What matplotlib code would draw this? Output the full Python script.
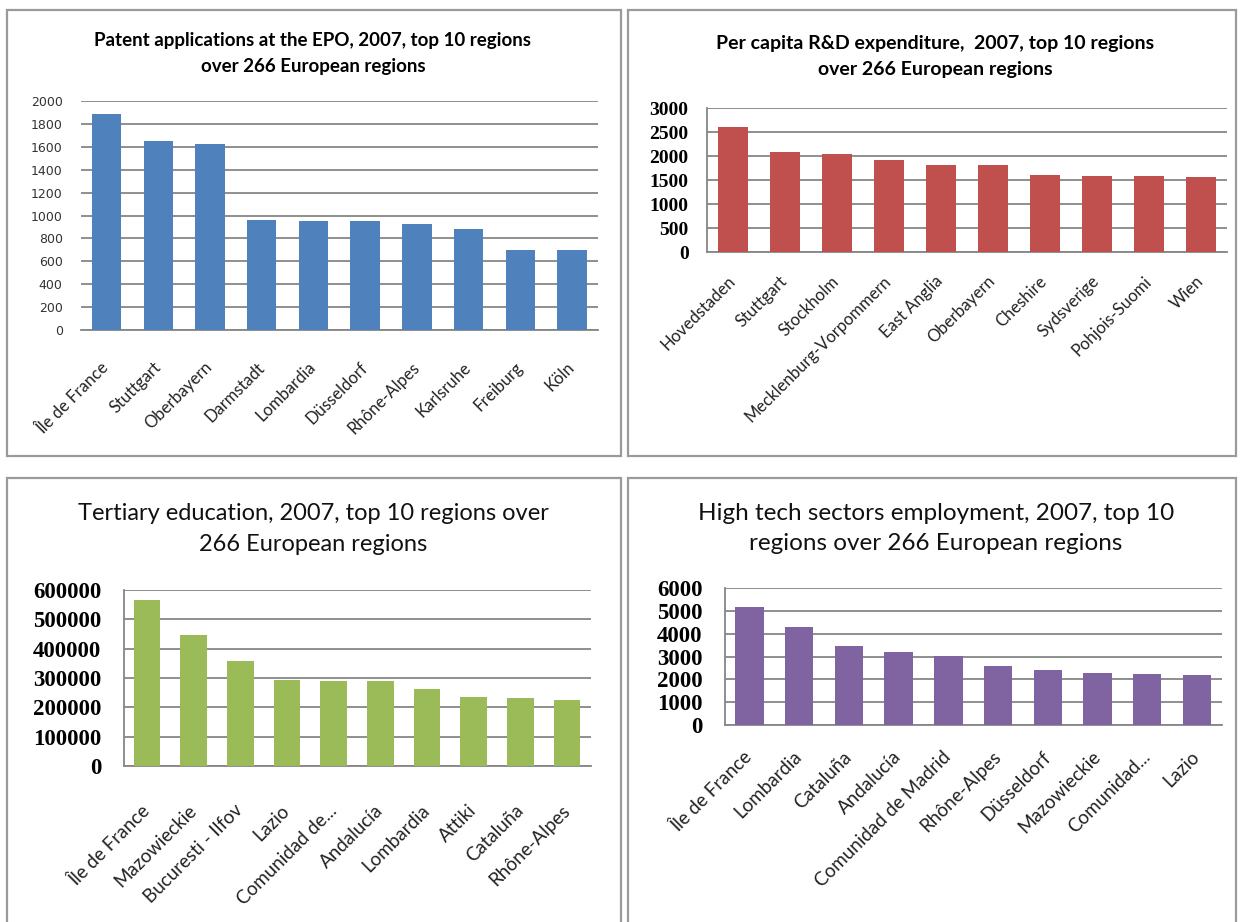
import matplotlib.pyplot as plt
from matplotlib.patches import Rectangle
from matplotlib.font_manager import FontProperties

# Data
patent_regions = ["Île de France", "Stuttgart", "Oberbayern", "Darmstadt", "Lombardia",
                  "Düsseldorf", "Rhône-Alpes", "Karlsruhe", "Freiburg", "Köln"]
patent_values = [1884, 1655, 1624, 958, 948, 948, 925, 882, 700, 700]

rd_regions = ["Hovedstaden", "Stuttgart", "Stockholm", "Mecklenburg-Vorpommern", "East Anglia",
              "Oberbayern", "Cheshire", "Sydsverige", "Pohjois-Suomi", "Wien"]
rd_values = [2616, 2096, 2048, 1922, 1815, 1815, 1610, 1590, 1590, 1562]

edu_regions = ["Île de France", "Mazowieckie", "Bucuresti - Ilfov", "Lazio", "Comunidad de...",
               "Andalucía", "Lombardia", "Attiki", "Cataluña", "Rhône-Alpes"]
edu_values = [567000, 446000, 358000, 294000, 290000, 290000, 264000, 235000, 231000, 226000]

tech_regions = ["Île de France", "Lombardia", "Cataluña", "Andalucía", "Comunidad de Madrid",
                "Rhône-Alpes", "Düsseldorf", "Mazowieckie", "Comunidad...", "Lazio"]
tech_values = [5195, 4310, 3480, 3225, 3030, 2590, 2410, 2290, 2220, 2215]

W, H = 1241, 922
GRID = "#868686"
SANS = "Lato"


def px_rect(x0, y0, x1, y1):
    """Pixel box (top-left origin) to figure fraction [l, b, w, h]."""
    return [x0 / W, 1 - y1 / H, (x1 - x0) / W, (y1 - y0) / H]


def bar_panel(fig, box, labels, values, color, ymax, step, ytick_font, label_size, ypad, xpad,
              left_spine=True):
    ax = fig.add_axes(px_rect(*box))
    x = range(len(values))
    ax.bar(x, values, width=0.57, color=color, zorder=3)
    ax.set_xlim(-0.5, len(values) - 0.5)
    ax.set_ylim(0, ymax)
    ax.set_yticks(range(0, ymax + 1, step))
    ax.yaxis.grid(True, color=GRID, linewidth=1.3, zorder=0)
    ax.set_axisbelow(True)
    for side in ["top", "right"]:
        ax.spines[side].set_visible(False)
    ax.spines["left"].set_visible(left_spine)
    for side in ["left", "bottom"]:
        ax.spines[side].set_color(GRID)
        ax.spines[side].set_linewidth(1.3)
    ax.tick_params(axis="both", length=0)
    ax.tick_params(axis="y", pad=ypad)
    ax.tick_params(axis="x", pad=xpad)
    for t in ax.get_yticklabels():
        t.set_fontproperties(ytick_font)
    ax.set_xticks(list(x))
    ax.set_xticklabels(labels, rotation=45, ha="right", va="center", rotation_mode="anchor",
                       fontsize=label_size, family=SANS, color="#222222")
    return ax


fig = plt.figure(figsize=(W / 100, H / 100), dpi=100)

# panel frames
for x0, y0, x1, y1 in [(7, 10, 621, 456), (628, 10, 1236, 456),
                       (7, 478, 621, 925), (628, 478, 1236, 925)]:
    fig.patches.append(Rectangle((x0 / W, 1 - y1 / H), (x1 - x0) / W, (y1 - y0) / H,
                                 transform=fig.transFigure, fill=False,
                                 edgecolor="#9a9a9a", linewidth=1.6))

small_sans = FontProperties(family="DejaVu Sans", size=9)
serif_mid = FontProperties(family="Liberation Serif", weight="bold", size=14)
serif_big = FontProperties(family="Liberation Serif", weight="bold", size=16.5)

ax1 = bar_panel(fig, (80.7, 101, 598, 330), patent_regions, patent_values, "#4F81BD",
                2000, 200, small_sans, 12, 13, 25, left_spine=False)
for t in ax1.get_yticklabels():
    t.set_color("#333333")
ax2 = bar_panel(fig, (706.7, 108.3, 1226.7, 252.3), rd_regions, rd_values, "#C0504D",
                3000, 500, serif_mid, 12, 13, 19)
ax3 = bar_panel(fig, (123.5, 590, 590.5, 766), edu_regions, edu_values, "#9BBB59",
                600000, 100000, serif_big, 13.5, 16, 30)
ax4 = bar_panel(fig, (724.7, 588.3, 1221.7, 725), tech_regions, tech_values, "#8064A2",
                6000, 1000, serif_big, 13.5, 16, 21)

# titles
fig.text(313 / W, 1 - 53.5 / H, "Patent applications at the EPO, 2007, top 10 regions\nover 266 European regions",
         ha="center", va="center", fontsize=13.5, fontweight="bold", family=SANS, linespacing=1.6)
fig.text(935 / W, 1 - 56.5 / H, "Per capita R&D expenditure,  2007, top 10 regions\nover 266 European regions",
         ha="center", va="center", fontsize=14, fontweight="bold", family=SANS, linespacing=1.7)
fig.text(313 / W, 1 - 529 / H, "Tertiary education, 2007, top 10 regions over\n266 European regions",
         ha="center", va="center", fontsize=17, family=SANS, color="#111111", linespacing=1.55)
fig.text(936 / W, 1 - 528.5 / H, "High tech sectors employment, 2007, top 10\nregions over 266 European regions",
         ha="center", va="center", fontsize=17.5, family=SANS, color="#111111", linespacing=1.5)

fig.savefig("out.png", dpi=100)
